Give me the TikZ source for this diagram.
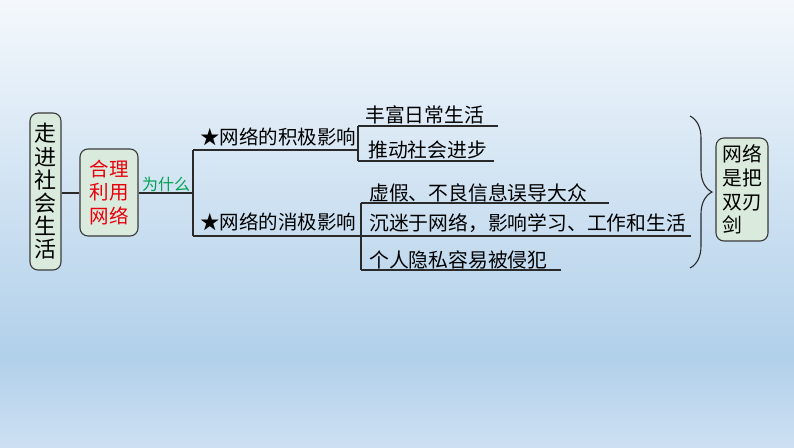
\documentclass[tikz,border=0pt]{standalone}
\usepackage{fontspec}
\setmainfont{Noto Sans CJK SC}
\usetikzlibrary{decorations.pathreplacing}
\definecolor{bgtop}{HTML}{F4F8FC}
\definecolor{bgdark}{HTML}{B1D0EA}
\definecolor{bgbot}{HTML}{CDE0F2}
\definecolor{boxfill}{HTML}{DAEADC}
\definecolor{boxline}{HTML}{3A3A3A}
\definecolor{redtxt}{HTML}{E8000B}
\definecolor{greentxt}{HTML}{00A050}
\definecolor{linecol}{HTML}{2A2A2A}
\begin{document}
\begin{tikzpicture}[x=1pt,y=-1pt,
  mainbox/.style={draw=boxline, line width=1.1pt, fill=boxfill, rounded corners=8pt, inner sep=0pt, align=center},
  conn/.style={draw=linecol, line width=1.3pt},
  leaf/.style={anchor=base west, inner sep=0pt, font=\fontsize{19.8}{22}\selectfont, text=black},
  branch/.style={anchor=base west, inner sep=0pt, font=\fontsize{19.5}{22}\selectfont, text=black}]
\useasboundingbox (0,0) rectangle (794,447);
\shade[top color=bgtop, bottom color=bgdark] (0,0) rectangle (794,357);
\shade[top color=bgdark, bottom color=bgbot] (0,357) rectangle (794,447);

% boxes
\node[mainbox, minimum width=31pt, minimum height=157pt, font=\fontsize{22}{23.2}\selectfont] (A) at (45.5,191.5) {走\\进\\社\\会\\生\\活};
\node[mainbox, minimum width=58pt, minimum height=87pt, text=redtxt, font=\fontsize{19.5}{23.75}\selectfont] (B) at (109,192.5) {合理\\利用\\网络};
\node[mainbox, minimum width=52pt, minimum height=103pt, align=left, font=\fontsize{19.8}{23.8}\selectfont] (C) at (742,189.5) {网络\\是把\\双刃\\剑};

% junction coordinates
\coordinate (J) at (193,193);
\coordinate (PT) at (193,150);
\coordinate (PB) at (193,236);
\coordinate (Q1) at (358,150);
\coordinate (Q2) at (361,236);
\coordinate (U1) at (358,126);
\coordinate (U2) at (358,161);
\coordinate (U1e) at (498,126);
\coordinate (U2e) at (494,161);
\coordinate (L1) at (361,203);
\coordinate (L3) at (361,270);
\coordinate (L1e) at (609,203);
\coordinate (L2e) at (691,236);
\coordinate (L3e) at (561,270);
\coordinate (BR1) at (690,116);
\coordinate (BR2) at (690,268);

% connectors
\draw[conn] (A.east |- J) -- (B.west |- J);
\draw[conn] (B.east |- J) -- (J);
\draw[conn] (PT) -- (PB);
\draw[conn] (PT) -- (Q1);
\draw[conn] (PB) -- (Q2);
\draw[conn] (U1) -- (U2);
\draw[conn] (U1) -- (U1e);
\draw[conn] (U2) -- (U2e);
\draw[conn] (L1) -- (L3);
\draw[conn] (L1) -- (L1e);
\draw[conn] (Q2) -- (L2e);
\draw[conn] (L3) -- (L3e);
\draw[draw=linecol, line width=1.1pt, decorate, decoration={brace, amplitude=22pt}] (BR1) -- (BR2);

% labels
\node[anchor=base, inner sep=0pt, text=greentxt, font=\fontsize{16}{18}\selectfont] (why) at (166,190) {为什么};
\node[branch] (pos) at (200,144.5) {★网络的积极影响};
\node[branch] (neg) at (200,229.5) {★网络的消极影响};
\node[leaf] (p1) at (365,122.5) {丰富日常生活};
\node[leaf] (p2) at (368,157.5) {推动社会进步};
\node[leaf] (n1) at (369,200.5) {虚假、不良信息误导大众};
\node[leaf] (n2) at (369,230.5) {沉迷于网络，影响学习、工作和生活};
\node[leaf] (n3) at (369,267.5) {个人隐私容易被侵犯};
\end{tikzpicture}
\end{document}
